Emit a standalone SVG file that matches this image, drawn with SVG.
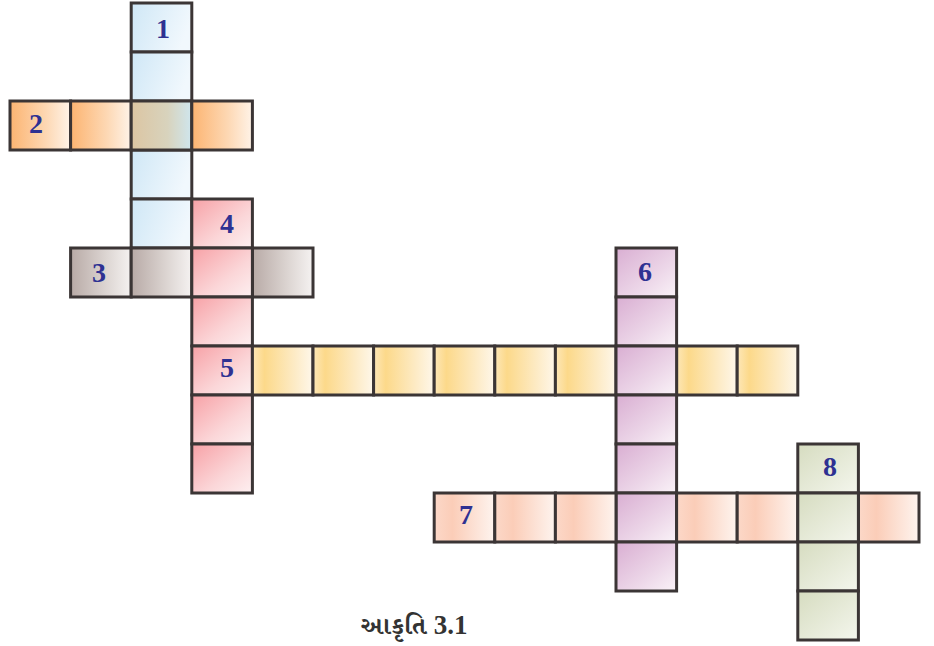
<svg xmlns="http://www.w3.org/2000/svg" width="934" height="646" viewBox="0 0 934 646">
<defs>
<linearGradient id="gBlue" x1="0" y1="0" x2="1" y2="0.3"><stop offset="0" stop-color="#cfe7f6"/><stop offset="1" stop-color="#f1f8fd"/></linearGradient>
<linearGradient id="gOrange" x1="0" y1="0" x2="1" y2="0"><stop offset="0" stop-color="#fcb471"/><stop offset="0.6" stop-color="#fdd8b4"/><stop offset="1" stop-color="#fff3e8"/></linearGradient>
<linearGradient id="gTan" x1="0" y1="0" x2="1" y2="0"><stop offset="0" stop-color="#dcc5a2"/><stop offset="0.6" stop-color="#d8d3bd"/><stop offset="1" stop-color="#cfe6ee"/></linearGradient>
<linearGradient id="gGray" x1="0" y1="0" x2="1" y2="0"><stop offset="0" stop-color="#b8aaa6"/><stop offset="0.6" stop-color="#ddd6d3"/><stop offset="1" stop-color="#f5f2f1"/></linearGradient>
<linearGradient id="gPink" x1="0" y1="0" x2="1" y2="1"><stop offset="0" stop-color="#f7a1a6"/><stop offset="0.6" stop-color="#fbd6d8"/><stop offset="1" stop-color="#fdf0f1"/></linearGradient>
<linearGradient id="gYellow" x1="0" y1="0" x2="1" y2="0"><stop offset="0" stop-color="#fde7b8"/><stop offset="0.2" stop-color="#fcd98a"/><stop offset="0.7" stop-color="#fdebc6"/><stop offset="1" stop-color="#fef7ea"/></linearGradient>
<linearGradient id="gPurple" x1="0" y1="0" x2="1" y2="1"><stop offset="0" stop-color="#d9aed2"/><stop offset="0.6" stop-color="#ecd6e8"/><stop offset="1" stop-color="#faf3f8"/></linearGradient>
<linearGradient id="gPeach" x1="0" y1="0" x2="1" y2="0"><stop offset="0" stop-color="#fcd8c8"/><stop offset="0.3" stop-color="#fbcdb8"/><stop offset="1" stop-color="#fef4ef"/></linearGradient>
<linearGradient id="gGreen" x1="0" y1="0" x2="1" y2="1"><stop offset="0" stop-color="#d6dcc0"/><stop offset="1" stop-color="#f4f6ed"/></linearGradient>
</defs>
<style>
rect{stroke:#3b3535;stroke-width:3}
.b{fill:url(#gBlue)}.o{fill:url(#gOrange)}.t{fill:url(#gTan)}.g{fill:url(#gGray)}
.p{fill:url(#gPink)}.y{fill:url(#gYellow)}.v{fill:url(#gPurple)}.k{fill:url(#gPeach)}.n{fill:url(#gGreen)}
.num{font-family:"Liberation Serif","Times New Roman",serif;font-weight:bold;font-size:28px;fill:#2e3192;text-anchor:middle}
.cap{font-family:"Noto Serif Gujarati","Noto Sans Gujarati","Liberation Serif",serif;font-weight:bold;font-size:25px;fill:#333;text-anchor:middle}
.capn{font-family:"Liberation Serif","Times New Roman",serif;font-size:27px}
</style>
<rect x="0" y="0" width="934" height="646" fill="#fff" style="stroke:none"/>
<g id="word1">
<rect class="b" x="131.2" y="3" width="60.6" height="49"/>
<rect class="b" x="131.2" y="52" width="60.6" height="49"/>
<rect class="b" x="131.2" y="150" width="60.6" height="49"/>
<rect class="b" x="131.2" y="199" width="60.6" height="49"/>
<text class="num" x="163" y="38">1</text>
</g>
<g id="word2">
<rect class="o" x="10" y="101" width="60.6" height="49"/>
<rect class="o" x="70.6" y="101" width="60.6" height="49"/>
<rect class="t" x="131.2" y="101" width="60.6" height="49"/>
<rect class="o" x="191.8" y="101" width="60.6" height="49"/>
<text class="num" x="36" y="133">2</text>
</g>
<g id="word3">
<rect class="g" x="70.6" y="248" width="60.6" height="49"/>
<rect class="g" x="131.2" y="248" width="60.6" height="49"/>
<rect class="g" x="252.4" y="248" width="60.6" height="49"/>
<text class="num" x="99" y="282">3</text>
</g>
<g id="word4">
<rect class="p" x="191.8" y="199" width="60.6" height="49"/>
<rect class="p" x="191.8" y="248" width="60.6" height="49"/>
<rect class="p" x="191.8" y="297" width="60.6" height="49"/>
<rect class="p" x="191.8" y="346" width="60.6" height="49"/>
<rect class="p" x="191.8" y="395" width="60.6" height="49"/>
<rect class="p" x="191.8" y="444" width="60.6" height="49"/>
<text class="num" x="227" y="233">4</text>
</g>
<g id="word5">
<rect class="y" x="252.4" y="346" width="60.6" height="49"/>
<rect class="y" x="313" y="346" width="60.6" height="49"/>
<rect class="y" x="373.6" y="346" width="60.6" height="49"/>
<rect class="y" x="434.2" y="346" width="60.6" height="49"/>
<rect class="y" x="494.8" y="346" width="60.6" height="49"/>
<rect class="y" x="555.4" y="346" width="60.6" height="49"/>
<rect class="y" x="676.6" y="346" width="60.6" height="49"/>
<rect class="y" x="737.2" y="346" width="60.6" height="49"/>
<text class="num" x="227" y="377">5</text>
</g>
<g id="word6">
<rect class="v" x="616" y="248" width="60.6" height="49"/>
<rect class="v" x="616" y="297" width="60.6" height="49"/>
<rect class="v" x="616" y="346" width="60.6" height="49"/>
<rect class="v" x="616" y="395" width="60.6" height="49"/>
<rect class="v" x="616" y="444" width="60.6" height="49"/>
<rect class="v" x="616" y="493" width="60.6" height="49"/>
<rect class="v" x="616" y="542" width="60.6" height="49"/>
<text class="num" x="645" y="281">6</text>
</g>
<g id="word7">
<rect class="k" x="434.2" y="493" width="60.6" height="49"/>
<rect class="k" x="494.8" y="493" width="60.6" height="49"/>
<rect class="k" x="555.4" y="493" width="60.6" height="49"/>
<rect class="k" x="676.6" y="493" width="60.6" height="49"/>
<rect class="k" x="737.2" y="493" width="60.6" height="49"/>
<rect class="k" x="858.4" y="493" width="60.6" height="49"/>
<text class="num" x="466" y="524">7</text>
</g>
<g id="word8">
<rect class="n" x="797.8" y="444" width="60.6" height="49"/>
<rect class="n" x="797.8" y="493" width="60.6" height="49"/>
<rect class="n" x="797.8" y="542" width="60.6" height="49"/>
<rect class="n" x="797.8" y="591" width="60.6" height="49"/>
<text class="num" x="830" y="476">8</text>
</g>
<g id="caption">
<text class="cap" x="414" y="634">આકૃતિ <tspan class="capn">3.1</tspan></text>
</g>
</svg>
